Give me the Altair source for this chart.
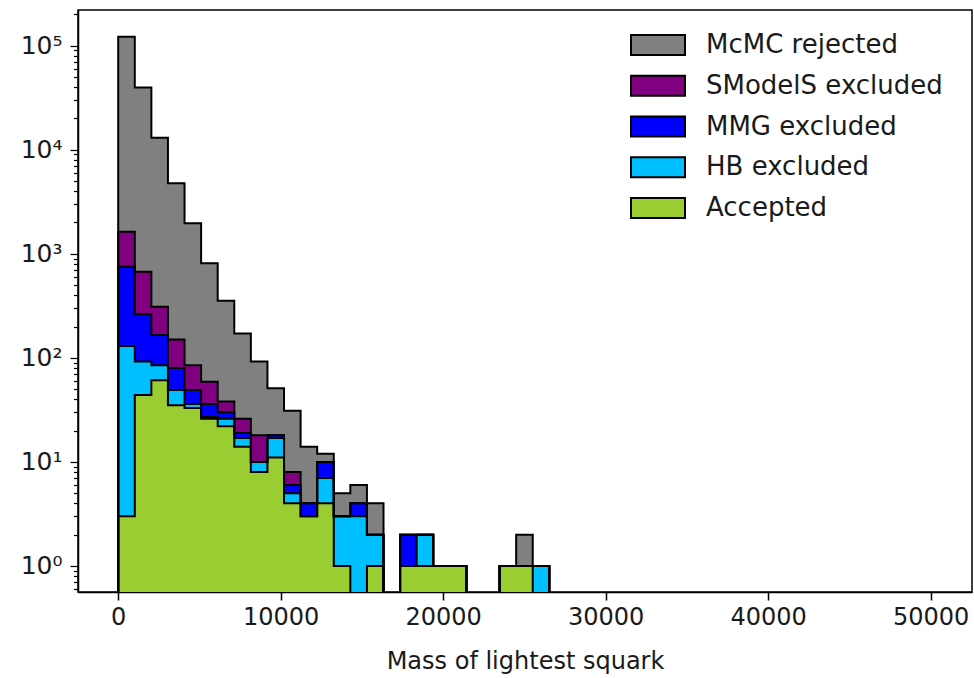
import altair as alt
import numpy as np
import pandas as pd

# Histogram binning of the lightest-squark mass
N_BINS = 49
MASS_MIN, MASS_MAX = 0, 50000

# Counts per bin, lowest mass first; bins beyond the listed ones are empty
accepted = [3, 44, 61, 35, 33, 26, 22, 14, 8, 11, 4, 3, 4, 1, 0, 1, 0, 1, 1, 1, 1, 0, 0, 1, 1, 0]
hb_excluded = [127, 48, 24, 14, 3, 1, 4, 3, 2, 6, 1, 0, 3, 2, 3, 1, 0, 0, 1, 0, 0, 0, 0, 0, 0, 1]
mmg_excluded = [620, 171, 81, 31, 13, 9, 4, 2, 0, 1, 1, 1, 3, 0, 1, 0, 0, 1, 0, 0, 0, 0, 0, 0, 0, 0]
smodels_excluded = [880, 408, 143, 70, 36, 23, 8, 7, 8, 0, 2, 0, 0, 0, 0, 0, 0, 0, 0, 0, 0, 0, 0, 0, 0, 0]
mcmc_rejected = [120400, 38830, 12690, 4600, 1875, 750, 315, 145, 74, 33, 23, 10, 2, 2, 2, 2, 0, 0, 0,
                 0, 0, 0, 0, 0, 1, 0]

# Stacking order, bottom to top
categories = ["Accepted", "HB excluded", "MMG excluded", "SModelS excluded", "McMC rejected"]
colors = ["#9acd32", "#00bfff", "#0000ff", "#800080", "#808080"]
series = [accepted, hb_excluded, mmg_excluded, smodels_excluded, mcmc_rejected]

# Legend lists the top layer first
legend_order = categories[::-1]
legend_colors = colors[::-1]

x_ticks = [0, 10000, 20000, 30000, 40000, 50000]
y_major = [1, 10, 100, 1000, 10000, 100000]
y_minor = [m * 10.0 ** e for e in range(-1, 6) for m in range(2, 10)]

X_DOMAIN = [-2474, 52541]
Y_DOMAIN = [0.562, 2.2e5]
FLOOR = 0.05  # stands in for zero on the log axis (below the visible range)

edges = np.linspace(MASS_MIN, MASS_MAX, N_BINS + 1)

area_rows, edge_rows = [], []
below = np.zeros(N_BINS)
for name, counts in zip(categories, series):
    c = np.zeros(N_BINS)
    c[: len(counts)] = counts
    top = below + c
    for k in range(N_BINS + 1):
        kk = min(k, N_BINS - 1)
        area_rows.append({
            "cat": name,
            "mass": float(edges[k]),
            "top": float(max(top[kk], FLOOR)),
            "base": float(max(below[kk], FLOOR)),
        })
    pts = [(edges[0], FLOOR)] + [(edges[k], top[k]) for k in range(N_BINS)] + [(edges[N_BINS], FLOOR)]
    for i, (xv, yv) in enumerate(pts):
        edge_rows.append({"cat": name, "i": i, "mass": float(xv), "top": float(max(yv, FLOOR))})
    below = top

area_df = pd.DataFrame(area_rows)
edge_df = pd.DataFrame(edge_rows)
legend_df = pd.DataFrame({"cat": legend_order})

FONT = "DejaVu Sans"
is_major = "abs(log(datum.value)/LN10 - round(log(datum.value)/LN10)) < 1e-6"

x_axis = alt.Axis(
    values=x_ticks, format="d", title="Mass of lightest squark",
    tickSize=8, tickWidth=1.5, tickColor="black", labelPadding=5,
    labelFontSize=24, titleFontSize=24, titleFontWeight="normal",
    titlePadding=20, domainColor="black", domainWidth=1.5, labelColor="#1a1a1a",
    titleColor="#1a1a1a", grid=False,
)
y_axis = alt.Axis(
    values=y_major + y_minor,
    labelExpr=is_major + " ? '10' + ['\u2070','\u00b9','\u00b2','\u00b3','\u2074','\u2075'][round(log(datum.value)/LN10)] : ''",
    tickSize={"condition": {"test": is_major, "value": 8}, "value": 4.5},
    tickWidth=1.2, tickColor="black", labelPadding=8, labelFontSize=25,
    labelColor="#1a1a1a", domainColor="black", domainWidth=1.5,
    title="", grid=False, labelOverlap=False, labelBound=False,
)

x_scale = alt.Scale(domain=X_DOMAIN, nice=False, zero=False)
y_scale = alt.Scale(type="log", domain=Y_DOMAIN, nice=False)

x_enc = alt.X("mass:Q", scale=x_scale, axis=x_axis)
y_enc = alt.Y("top:Q", scale=y_scale, stack=False, axis=y_axis)

color_scale = alt.Scale(domain=legend_order, range=legend_colors)

fills = alt.Chart(area_df).mark_area(interpolate="step-after", clip=True).encode(
    x=x_enc,
    y=y_enc,
    y2="base:Q",
    color=alt.Color("cat:N", scale=color_scale, legend=None),
)

outlines = alt.Chart(edge_df).mark_line(
    interpolate="step-after", clip=True, color="black", strokeWidth=2
).encode(
    x=x_enc,
    y=y_enc,
    detail="cat:N",
    order="i:Q",
)

plot = alt.layer(fills, outlines)

legend_y = alt.Y("cat:N", scale=alt.Scale(domain=legend_order, range=[35, 198], type="point", padding=0), axis=None)

legend_patches = alt.Chart(legend_df).mark_point(
    shape="M-1,-0.37H1V0.37H-1Z", size=2916, filled=True, opacity=1,
    stroke="black", strokeWidth=2,
).encode(
    x=alt.value(580),
    y=legend_y,
    fill=alt.Color("cat:N", scale=color_scale, legend=None),
)

legend_text = alt.Chart(legend_df).mark_text(
    align="left", baseline="middle", font=FONT, fontSize=26, color="#1a1a1a",
).encode(
    x=alt.value(628),
    y=legend_y,
    text="cat:N",
)

legend = alt.layer(legend_patches, legend_text)

chart = alt.layer(plot, legend).resolve_scale(y="independent").properties(
    width=894,
    height=582,
    autosize=alt.AutoSizeParams(type="none"),
    padding={"left": 78, "top": 10, "right": 2, "bottom": 86},
    background="white",
).configure_view(
    stroke="black", strokeWidth=1.5,
).configure_axis(
    labelFont=FONT, titleFont=FONT,
).configure_text(font=FONT)

chart.save("out.html", embed_options={"renderer": "svg", "actions": False})
